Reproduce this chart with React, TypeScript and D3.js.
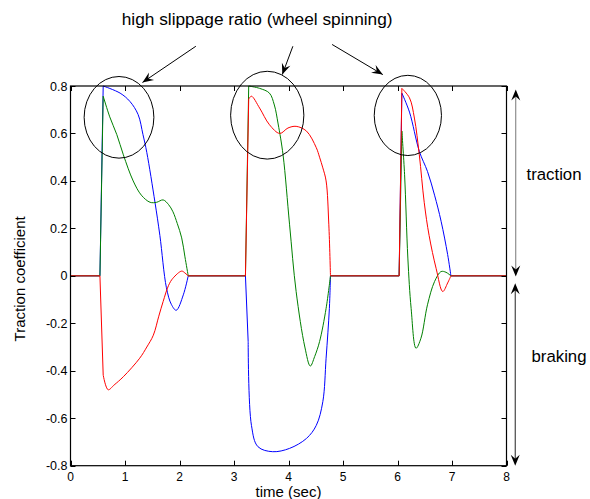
import React, { useRef, useEffect } from 'react';
import * as d3 from 'd3';

type Pt = [number, number];

// time (sec), traction coefficient
const blueSeries: Pt[] = [
  [0, 0], [0.54, 0], [0.6, 0.8], [0.91, 0.77], [1.09, 0.735], [1.24, 0.68], [1.33, 0.595],
  [1.4, 0.52], [1.55, 0.31], [1.64, 0.17], [1.76, -0.05], [1.85, -0.12], [1.94, -0.145],
  [2.07, -0.08], [2.16, 0], [3.21, 0], [3.26, -0.277], [3.32, -0.63], [3.44, -0.72],
  [3.71, -0.741], [4.02, -0.727], [4.33, -0.685], [4.51, -0.63], [4.63, -0.53], [4.69, -0.347],
  [4.75, -0.137], [4.77, 0], [6.03, 0], [6.08, 0.77], [6.22, 0.69], [6.4, 0.525], [6.55, 0.44],
  [6.68, 0.34], [6.8, 0.23], [6.92, 0.09], [6.98, 0], [8, 0],
];

const greenSeries: Pt[] = [
  [0, 0], [0.54, 0], [0.6, 0.757], [0.72, 0.67], [0.85, 0.595], [0.97, 0.51], [1.15, 0.4],
  [1.3, 0.34], [1.46, 0.31], [1.58, 0.31], [1.7, 0.32], [1.8, 0.3], [1.88, 0.27], [1.96, 0.22],
  [2.04, 0.16], [2.1, 0.08], [2.16, 0], [3.21, 0], [3.27, 0.8], [3.47, 0.79], [3.65, 0.77],
  [3.74, 0.72], [3.81, 0.64], [3.9, 0.51], [4.02, 0.215], [4.14, -0.066], [4.3, -0.3],
  [4.4, -0.38], [4.48, -0.34], [4.57, -0.277], [4.69, -0.137], [4.77, 0], [6.03, 0],
  [6.08, 0.61], [6.13, 0.426], [6.19, 0.075], [6.25, -0.137], [6.34, -0.305], [6.43, -0.263],
  [6.55, -0.122], [6.68, -0.024], [6.8, 0.018], [6.89, 0.015], [6.98, 0], [8, 0],
];

const redSeries: Pt[] = [
  [0, 0], [0.54, 0], [0.6, -0.418], [0.69, -0.48], [0.8, -0.46], [0.97, -0.425],
  [1.27, -0.347], [1.4, -0.3], [1.52, -0.25], [1.62, -0.17], [1.7, -0.108], [1.8, -0.04],
  [1.88, -0.01], [2.04, 0.02], [2.1, 0.012], [2.16, 0], [3.21, 0], [3.27, 0.745], [3.32, 0.757],
  [3.47, 0.707], [3.65, 0.637], [3.84, 0.6], [3.99, 0.623], [4.14, 0.63], [4.33, 0.61],
  [4.51, 0.54], [4.57, 0.5], [4.63, 0.455], [4.69, 0.4], [4.74, 0.215], [4.77, 0], [6.03, 0],
  [6.08, 0.79], [6.22, 0.75], [6.31, 0.665], [6.4, 0.51], [6.49, 0.31], [6.58, 0.17],
  [6.71, 0.03], [6.83, -0.066], [6.92, -0.03], [6.98, 0], [8, 0],
];

const xTicks = [0, 1, 2, 3, 4, 5, 6, 7, 8];
const yTicks = [-0.8, -0.6, -0.4, -0.2, 0, 0.2, 0.4, 0.6, 0.8];

// circled regions: [t, v, rx (sec), ry (coef)]
const circles: [number, number, number, number][] = [
  [0.89, 0.668, 0.64, 0.172],
  [3.61, 0.677, 0.672, 0.185],
  [6.19, 0.676, 0.617, 0.169],
];

// arrows from the label to the circles: [t0, v0, t1, v1]
const labelArrows: [number, number, number, number][] = [
  [2.3, 0.9675, 1.32, 0.815],
  [4.08, 0.9675, 3.886, 0.848],
  [4.8, 0.975, 5.73, 0.848],
];

// double arrows on the right side: [t, vTop, vBottom]
const rangeArrows: [number, number, number][] = [
  [8.17, 0.785, -0.003],
  [8.16, -0.031, -0.8],
];

const FONT = "'Liberation Sans', Arial, Helvetica, sans-serif";

// split a series into pieces: zero plateaus, the step up/down, and the smooth pulse
const splitPieces = (data: Pt[]): Pt[][] => {
  const corner = data.map((d, i) =>
    d[1] === 0 || (i > 0 && data[i - 1][1] === 0));
  const pieces: Pt[][] = [];
  let cur: Pt[] = [data[0]];
  for (let i = 1; i < data.length; i++) {
    cur.push(data[i]);
    if (corner[i] && i < data.length - 1) {
      pieces.push(cur);
      cur = [data[i]];
    }
  }
  if (cur.length > 1) pieces.push(cur);
  return pieces;
};

const App = () => {
  const svgRef = useRef<SVGSVGElement>(null);

  useEffect(() => {
    const width = 590;
    const height = 499;
    const left = 70.5, right = 506.5, top = 86, bottom = 465.7;

    d3.select(svgRef.current).selectAll('*').remove();

    const svg = d3.select(svgRef.current)
      .attr('width', width)
      .attr('height', height);

    const x = d3.scaleLinear().domain([0, 8]).range([left, right]);
    const y = d3.scaleLinear().domain([-0.8, 0.8]).range([bottom, top]);

    svg.append('rect')
      .attr('width', width)
      .attr('height', height)
      .attr('fill', '#fff');

    // curves
    const line = d3.line<Pt>()
      .x(d => x(d[0]))
      .y(d => y(d[1]))
      .curve(d3.curveCatmullRom.alpha(0.5));

    const series: [Pt[], string][] = [
      [blueSeries, '#0000ff'],
      [greenSeries, '#008000'],
      [redSeries, '#ff0000'],
    ];
    series.forEach(([data, color]) => {
      const d = splitPieces(data).map(p => line(p) as string).join('');
      svg.append('path')
        .attr('d', d)
        .attr('fill', 'none')
        .attr('stroke', color)
        .attr('stroke-width', 1)
        .attr('stroke-linejoin', 'round');
    });

    // frame and inward ticks
    svg.append('rect')
      .attr('x', left)
      .attr('y', top)
      .attr('width', right - left)
      .attr('height', bottom - top)
      .attr('fill', 'none')
      .attr('stroke', '#000')
      .attr('stroke-width', 1.2);

    const tickLen = 5;
    xTicks.forEach(t => {
      const px = Math.round(x(t)) + 0.5;
      svg.append('line').attr('x1', px).attr('x2', px)
        .attr('y1', bottom).attr('y2', bottom - tickLen).attr('stroke', '#000');
      svg.append('line').attr('x1', px).attr('x2', px)
        .attr('y1', top).attr('y2', top + tickLen).attr('stroke', '#000');
      svg.append('text')
        .attr('x', x(t))
        .attr('y', 480.5)
        .attr('text-anchor', 'middle')
        .attr('font-family', FONT)
        .attr('font-size', 12)
        .attr('fill', '#000')
        .text(String(t));
    });

    yTicks.forEach(v => {
      const py = Math.round(y(v)) + 0.5;
      svg.append('line').attr('x1', left).attr('x2', left + tickLen)
        .attr('y1', py).attr('y2', py).attr('stroke', '#000');
      svg.append('line').attr('x1', right).attr('x2', right - tickLen)
        .attr('y1', py).attr('y2', py).attr('stroke', '#000');
      const r = Math.round(v * 10) / 10;
      svg.append('text')
        .attr('x', 67.5)
        .attr('y', y(v))
        .attr('dy', '0.36em')
        .attr('text-anchor', 'end')
        .attr('font-family', FONT)
        .attr('font-size', 12.5)
        .attr('fill', '#000')
        .text(r === 0 ? '0' : r.toFixed(1));
    });

    // axis labels
    svg.append('text')
      .attr('x', (left + right) / 2)
      .attr('y', 497)
      .attr('text-anchor', 'middle')
      .attr('font-family', FONT)
      .attr('font-size', 15)
      .attr('fill', '#000')
      .text('time (sec)');

    svg.append('text')
      .attr('transform', `translate(25, ${(top + bottom) / 2 + 3}) rotate(-90)`)
      .attr('text-anchor', 'middle')
      .attr('font-family', FONT)
      .attr('font-size', 15)
      .attr('fill', '#000')
      .text('Traction coefficient');

    // circles
    circles.forEach(([t, v, rt, rv]) => {
      svg.append('ellipse')
        .attr('cx', x(t))
        .attr('cy', y(v))
        .attr('rx', x(rt) - x(0))
        .attr('ry', y(0) - y(rv))
        .attr('fill', 'none')
        .attr('stroke', '#000')
        .attr('stroke-width', 1);
    });

    // arrowhead helper: filled stealth head at (x1,y1) pointing away from (x0,y0)
    const head = (x0: number, y0: number, x1: number, y1: number) => {
      const a = Math.atan2(y1 - y0, x1 - x0);
      const L = 11, W = 4.5, N = 7;
      const pts: [number, number][] = [
        [x1, y1],
        [x1 - L * Math.cos(a) + W * Math.sin(a), y1 - L * Math.sin(a) - W * Math.cos(a)],
        [x1 - N * Math.cos(a), y1 - N * Math.sin(a)],
        [x1 - L * Math.cos(a) - W * Math.sin(a), y1 - L * Math.sin(a) + W * Math.cos(a)],
      ];
      svg.append('path')
        .attr('d', 'M' + pts.map(p => p.join(',')).join('L') + 'Z')
        .attr('fill', '#000');
    };

    labelArrows.forEach(([t0, v0, t1, v1]) => {
      const x0 = x(t0), y0 = y(v0), x1 = x(t1), y1 = y(v1);
      svg.append('line')
        .attr('x1', x0).attr('y1', y0).attr('x2', x1).attr('y2', y1)
        .attr('stroke', '#000').attr('stroke-width', 1);
      head(x0, y0, x1, y1);
    });

    rangeArrows.forEach(([t, v0, v1], i) => {
      const px = x(t), y0 = y(v0), y1 = y(v1);
      svg.append('line')
        .attr('x1', px).attr('y1', y0 + 4).attr('x2', px).attr('y2', y1 - 4)
        .attr('stroke', i === 0 ? '#777' : '#222').attr('stroke-width', 1);
      head(px, y1, px, y0);
      head(px, y0, px, y1);
    });

    // annotation texts
    svg.append('text')
      .attr('x', 121.7)
      .attr('y', 25)
      .attr('font-family', FONT)
      .attr('font-size', 17.3)
      .attr('fill', '#000')
      .text('high slippage ratio (wheel spinning)');

    svg.append('text')
      .attr('x', 526.5)
      .attr('y', 180)
      .attr('font-family', FONT)
      .attr('font-size', 16.8)
      .attr('fill', '#000')
      .text('traction');

    svg.append('text')
      .attr('x', 531.5)
      .attr('y', 361.5)
      .attr('font-family', FONT)
      .attr('font-size', 16.8)
      .attr('fill', '#000')
      .text('braking');
  }, []);

  return (
    <svg
      ref={svgRef}
      style={{ position: 'absolute', left: 0, top: 0, display: 'block' }}
    />
  );
};

export default App;
